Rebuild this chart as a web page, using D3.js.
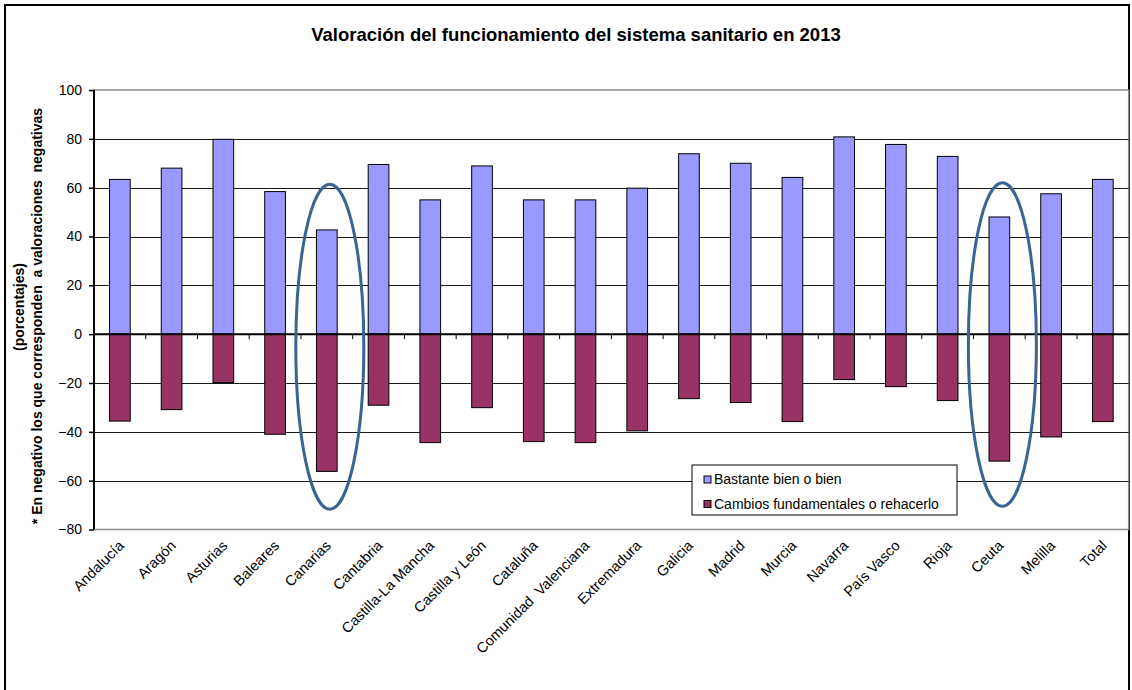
<!DOCTYPE html>
<html>
<head>
<meta charset="utf-8">
<script src="https://cdn.jsdelivr.net/npm/d3@7"></script>
<style>
  body { margin: 0; background: #fff; }
  text { font-family: "Liberation Sans", Arial, sans-serif; }
</style>
</head>
<body>
<div id="chart"></div>
<script>
var categories = ["Andalucía", "Aragón", "Asturias", "Baleares", "Canarias", "Cantabria",
  "Castilla-La Mancha", "Castilla y León", "Cataluña", "Comunidad  Valenciana", "Extremadura",
  "Galicia", "Madrid", "Murcia", "Navarra", "País Vasco", "Rioja", "Ceuta", "Melilla", "Total"];
var bien = [63.4, 68, 79.8, 58.4, 42.7, 69.5, 55, 68.9, 55, 55, 59.8, 73.9, 70, 64.2, 80.8, 77.7, 72.8, 48, 57.5, 63.4];
var cambios = [-35.6, -30.9, -19.8, -41, -56.2, -29.1, -44.4, -30.1, -44, -44.4, -39.6, -26.4, -28, -35.8, -18.6, -21.5, -27.2, -52, -42.1, -35.8];
var seriesNames = ["Bastante bien o bien", "Cambios fundamentales o rehacerlo"];
var seriesColors = ["#9999FF", "#993366"];
var yTicks = [-80, -60, -40, -20, 0, 20, 40, 60, 80, 100];
// highlighted regions: [category, top value, bottom value]
var highlights = [["Canarias", 61.4, -71.7], ["Ceuta", 62, -70.5]];

var W = 1132, H = 690;
var margin = { top: 90, left: 94, right: 3, bottom: 161 };
var width = 1128.7 - margin.left;
var height = 529.5 - margin.top;

var svg = d3.select("#chart").append("svg").attr("width", W).attr("height", H);

svg.append("rect").attr("x", 5).attr("y", 5).attr("width", 1124).attr("height", 700)
  .attr("fill", "none").attr("stroke", "#000").attr("stroke-width", 2);

svg.append("text").attr("x", 576).attr("y", 41).attr("text-anchor", "middle")
  .style("font-size", "18.5px").style("font-weight", "bold")
  .text("Valoración del funcionamiento del sistema sanitario en 2013");

var g = svg.append("g").attr("transform", "translate(" + margin.left + "," + margin.top + ")");

var x = d3.scaleBand().domain(categories).range([0, width]).paddingInner(0.6).paddingOuter(0.3);
var xb = d3.scaleBand().domain(categories).range([0, width]);
var y = d3.scaleLinear().domain([-80, 100]).range([height, 0]);

// plot border
g.append("rect").attr("width", width).attr("height", height)
  .attr("fill", "none").attr("stroke", "#8c8c8c").attr("stroke-width", 1.5);

// gridlines
g.selectAll(".grid").data(yTicks.filter(function (d) { return d !== 0 && d !== 100 && d !== -80; }))
  .enter().append("line")
  .attr("x1", 0).attr("x2", width)
  .attr("y1", function (d) { return Math.round(y(d)) + 0.5; })
  .attr("y2", function (d) { return Math.round(y(d)) + 0.5; })
  .attr("stroke", "#1a1a1a").attr("stroke-width", 1);

// bars
g.selectAll(".pos").data(bien).enter().append("rect")
  .attr("x", function (d, i) { return x(categories[i]); })
  .attr("y", function (d) { return y(d); })
  .attr("width", x.bandwidth())
  .attr("height", function (d) { return y(0) - y(d); })
  .attr("fill", seriesColors[0]).attr("stroke", "#000").attr("stroke-width", 1);

g.selectAll(".neg").data(cambios).enter().append("rect")
  .attr("x", function (d, i) { return x(categories[i]); })
  .attr("y", y(0))
  .attr("width", x.bandwidth())
  .attr("height", function (d) { return y(d) - y(0); })
  .attr("fill", seriesColors[1]).attr("stroke", "#000").attr("stroke-width", 1);

// y axis
var yAxis = g.append("g").call(d3.axisLeft(y).tickValues(yTicks).tickSize(5).tickPadding(7));
yAxis.select(".domain").attr("stroke", "#000").attr("stroke-width", 2).attr("d", "M0,0V" + height);
yAxis.selectAll(".tick line").attr("stroke", "#000").attr("stroke-width", 1.5);
yAxis.selectAll(".tick text").style("font-size", "14px").style("font-family", "Liberation Sans, Arial, sans-serif").attr("fill", "#000");

// zero line with category ticks
g.append("line").attr("x1", 0).attr("x2", width).attr("y1", y(0)).attr("y2", y(0))
  .attr("stroke", "#000").attr("stroke-width", 2);
g.selectAll(".ctick").data(categories.slice(1)).enter().append("line")
  .attr("x1", function (d) { return xb(d); }).attr("x2", function (d) { return xb(d); })
  .attr("y1", y(0)).attr("y2", y(0) + 5)
  .attr("stroke", "#000").attr("stroke-width", 1);

// category labels
g.selectAll(".clabel").data(categories).enter().append("text")
  .attr("transform", function (d) {
    return "translate(" + (xb(d) + xb.bandwidth() / 2 + 5) + "," + (height + 17) + ") rotate(-45)";
  })
  .attr("text-anchor", "end")
  .attr("xml:space", "preserve")
  .style("font-size", "14.5px")
  .text(function (d) { return d; });

// highlight ellipses
g.selectAll(".hl").data(highlights).enter().append("ellipse")
  .attr("cx", function (d) { return xb(d[0]) + xb.bandwidth() / 2 + 3; })
  .attr("cy", function (d) { return (y(d[1]) + y(d[2])) / 2; })
  .attr("rx", 34)
  .attr("ry", function (d) { return (y(d[2]) - y(d[1])) / 2; })
  .attr("fill", "none").attr("stroke", "#3a6492").attr("stroke-width", 3);

// legend
var lg = svg.append("g").attr("transform", "translate(692,465)");
lg.append("rect").attr("width", 265).attr("height", 50)
  .attr("fill", "#fff").attr("stroke", "#000").attr("stroke-width", 1);
seriesNames.forEach(function (name, i) {
  lg.append("rect").attr("x", 12).attr("y", 11 + i * 24.5).attr("width", 7).attr("height", 7)
    .attr("fill", seriesColors[i]).attr("stroke", "#000").attr("stroke-width", 1);
  lg.append("text").attr("x", 22).attr("y", 19 + i * 24.5)
    .style("font-size", "14px").text(name);
});

// y axis title
var yt = svg.append("g").attr("transform", "translate(0,312) rotate(-90)");
yt.append("text").attr("x", 5).attr("y", 24).attr("text-anchor", "middle")
  .style("font-size", "14px").style("font-weight", "bold").text("(porcentajes)");
yt.append("text").attr("x", -4).attr("y", 42).attr("text-anchor", "middle")
  .style("font-size", "14px").style("font-weight", "bold")
  .attr("xml:space", "preserve")
  .text("* En negativo los que corresponden  a valoraciones  negativas");
</script>
</body>
</html>
